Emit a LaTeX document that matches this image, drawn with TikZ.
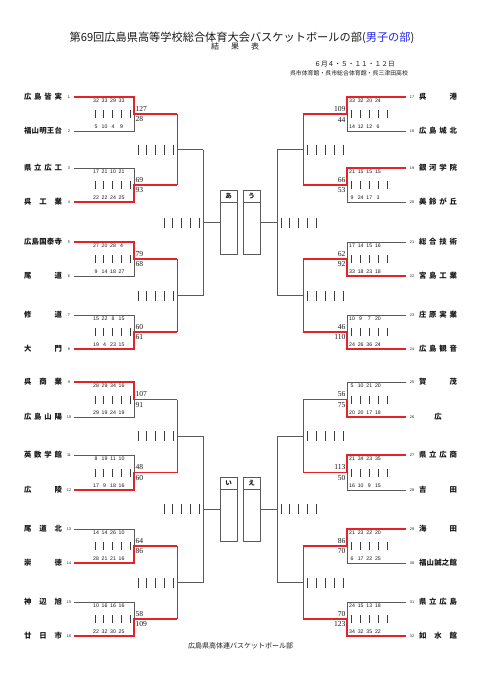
\documentclass[tikz,border=0pt]{standalone}
\usepackage{fontspec}
\setmainfont{Liberation Serif}
\setsansfont{Liberation Sans}
\newfontfamily\jp{Noto Sans CJK JP}
\usetikzlibrary{calc}
\definecolor{c1}{HTML}{1A1A1A}
\definecolor{linecolor}{HTML}{5A5A5A}
\definecolor{wincolor}{HTML}{E2232A}
\definecolor{titleblue}{HTML}{2323E6}

% names are spread over a fixed width
\def\spreadloop#1{\ifx#1\relax\else\hfill#1\expandafter\spreadloop\fi}
\def\spreadfirst#1#2\relax{\if\relax\detokenize{#2}\relax\hfill#1\hfill\else#1\spreadloop#2\relax\fi}
\newcommand\spread[1]{\makebox[38pt]{\expandafter\spreadfirst#1\relax}}

\begin{document}
\begin{tikzpicture}[x=1pt, y=-1pt,
    every node/.style={inner sep=0pt, outer sep=0pt, text=c1},
    ln/.style={linecolor, line width=0.85pt},
    win/.style={wincolor, line width=1.9pt},
    tk/.style={c1!85, line width=0.75pt},
    team/.style={font=\jp\bfseries\fontsize{7.4}{8}\selectfont},
    seed/.style={font=\sffamily\fontsize{3.8}{4}\selectfont},
    qtr/.style={font=\sffamily\fontsize{5.2}{6}\selectfont},
    tot/.style={font=\rmfamily\fontsize{7.6}{8}\selectfont},
    pool/.style={draw=linecolor, line width=0.85pt, minimum width=17pt,
        minimum height=64pt, anchor=north west},
    poolhead/.style={pool, minimum height=12pt, font=\jp\bfseries\fontsize{6.5}{7}\selectfont},
]
\fill[white] (0,0) rectangle (481,680);
\useasboundingbox (0,0) rectangle (481,680);

% heading
\node[font=\jp\fontsize{11.2}{12}\selectfont] (title) at (242,38)
    {第69回広島県高等学校総合体育大会バスケットボールの部(\textcolor{titleblue}{男子の部})};
\node[font=\jp\fontsize{8}{9}\selectfont] (sub) at (235,46.5) {結\hspace{12pt}果\hspace{12pt}表};
\node[font=\jp\fontsize{6.7}{7}\selectfont] (date) at (354.5,64) {６月４・５・１１・１２日};
\node[font=\jp\fontsize{5.9}{6}\selectfont] (venue) at (349,73) {呉市体育館・呉市総合体育館・呉三津田高校};
\node[font=\jp\fontsize{7}{8}\selectfont] (foot) at (240.5,646) {広島県高体連バスケットボール部};

% pools
\foreach \nm/\x/\y/\lab in {boxa/220/190/あ, boxu/243/190/う, boxi/220/477/い, boxe/243/477/え}{
  \node[pool] (\nm) at (\x,\y) {};
  \node[poolhead] (\nm-h) at (\x,\y) {\lab};
}

% teams, left
\foreach \y/\nm [count=\i] in {97/広島皆実, 131/福山明王台, 168/県立広工, 202/呉工業,
    242/広島国泰寺, 276/尾道, 315/修道, 349/大門,
    382/呉商業, 417/広島山陽, 455/英数学館, 490/広陵,
    529/尾道北, 563/崇徳, 602/神辺旭, 636/廿日市}{
  \node[team, anchor=west] (n\i) at (24,\y) {\spread\nm};
  \node[seed] (s\i) at (69,\y) {\i};
  \coordinate (t\i) at (74,\y);
}

% teams, right
\foreach \y/\nm [count=\i from 17] in {97/呉港, 131/広島城北, 168/銀河学院, 202/美鈴が丘,
    242/総合技術, 276/宮島工業, 315/庄原実業, 349/広島観音,
    382/賀茂, 417/広, 455/県立広商, 490/吉田,
    529/海田, 563/福山誠之館, 602/県立広島, 636/如水館}{
  \node[team, anchor=west] (n\i) at (419,\y) {\spread\nm};
  \node[seed] (s\i) at (412,\y) {\i};
  \coordinate (t\i) at (406,\y);
}

% first round, left
\foreach \i/\j/\wn/\qA/\qB/\sA/\sB [count=\m] in {
    1/2/t/{32,33,29,33}/{5,10,4,9}/127/28,
    3/4/b/{17,21,10,21}/{22,22,24,25}/69/93,
    5/6/t/{27,20,28,4}/{9,14,18,27}/79/68,
    7/8/b/{15,22,8,15}/{19,4,23,15}/60/61,
    9/10/t/{28,29,34,16}/{29,19,24,19}/107/91,
    11/12/b/{8,19,11,10}/{17,9,18,16}/48/60,
    13/14/b/{14,14,26,10}/{28,21,21,16}/64/86,
    15/16/b/{10,16,16,16}/{22,32,30,25}/58/109}{
  \if\wn t\def\winr{\i}\def\losr{\j}\else\def\winr{\j}\def\losr{\i}\fi
  \coordinate (m\m) at ($(t\i)!0.5!(t\j)+(60,0)$);
  \coordinate (w\m) at ($(m\m)+(43,0)$);
  \draw[ln] (t\losr) -- (t\losr -| m\m) -- (m\m);
  \draw[win] (t\winr) -- (t\winr -| m\m) -- (m\m) -- (w\m);
  \foreach \q [count=\k] in \qA
    \node[qtr] at ($(t\i -| m\m)+(-46.5+8.5*\k,4)$) {\q};
  \foreach \q [count=\k] in \qB
    \node[qtr] at ($(t\j -| m\m)+(-46.5+8.5*\k,-4)$) {\q};
  \foreach \k in {0,...,4}
    \draw[tk] ($(m\m)+(-39+8.75*\k,-4)$) -- ++(0,8);
  \node[tot, anchor=west] at ($(m\m)+(1.5,-5)$) {\sA};
  \node[tot, anchor=west] at ($(m\m)+(1.5,5.5)$) {\sB};
}

% first round, right
\foreach \i/\j/\wn/\qA/\qB/\sA/\sB [count=\m from 9] in {
    17/18/t/{33,32,20,24}/{14,12,12,6}/109/44,
    19/20/t/{21,15,15,15}/{9,24,17,3}/66/53,
    21/22/b/{17,14,15,16}/{33,18,23,18}/62/92,
    23/24/b/{10,9,7,20}/{24,26,36,24}/46/110,
    25/26/b/{5,10,21,20}/{20,20,17,18}/56/75,
    27/28/t/{21,34,23,35}/{16,10,9,15}/113/50,
    29/30/t/{21,23,22,20}/{6,17,22,25}/86/70,
    31/32/b/{24,15,13,18}/{34,32,35,22}/70/123}{
  \if\wn t\def\winr{\i}\def\losr{\j}\else\def\winr{\j}\def\losr{\i}\fi
  \coordinate (m\m) at ($(t\i)!0.5!(t\j)+(-59,0)$);
  \coordinate (w\m) at ($(m\m)+(-44,0)$);
  \draw[ln] (t\losr) -- (t\losr -| m\m) -- (m\m);
  \draw[win] (t\winr) -- (t\winr -| m\m) -- (m\m) -- (w\m);
  \foreach \q [count=\k] in \qA
    \node[qtr] at ($(t\i -| m\m)+(-3.65+8.65*\k,4)$) {\q};
  \foreach \q [count=\k] in \qB
    \node[qtr] at ($(t\j -| m\m)+(-3.65+8.65*\k,-4)$) {\q};
  \foreach \k in {0,...,4}
    \draw[tk] ($(m\m)+(4+9*\k,-4)$) -- ++(0,8);
  \node[tot, anchor=east] at ($(m\m)+(-1.5,-5)$) {\sA};
  \node[tot, anchor=east] at ($(m\m)+(-1.5,5.5)$) {\sB};
}

% second round
\foreach \a/\b [count=\nn] in {1/2, 3/4, 5/6, 7/8}{
  \coordinate (h\nn) at ($(w\a)!0.5!(w\b)$);
  \coordinate (r\nn) at ($(h\nn)+(26,0)$);
  \draw[ln] (w\a) -- (w\b);
  \draw[ln] (h\nn) -- (r\nn);
  \foreach \k in {0,...,4}
    \draw[tk] ($(h\nn)+(-39+8.75*\k,-5)$) -- ++(0,10);
}
\foreach \a/\b [count=\nn from 5] in {9/10, 11/12, 13/14, 15/16}{
  \coordinate (h\nn) at ($(w\a)!0.5!(w\b)$);
  \coordinate (r\nn) at ($(h\nn)+(-26,0)$);
  \draw[ln] (w\a) -- (w\b);
  \draw[ln] (h\nn) -- (r\nn);
  \foreach \k in {0,...,4}
    \draw[tk] ($(h\nn)+(4+9*\k,-5)$) -- ++(0,10);
}

% third round, into the pools
\foreach \a/\b/\bx [count=\nn] in {1/2/boxa, 3/4/boxi}{
  \coordinate (g\nn) at ($(r\a)!0.5!(r\b)$);
  \draw[ln] (r\a) -- (r\b);
  \draw[ln] (g\nn) -- (g\nn -| \bx.west);
  \foreach \k in {0,...,4}
    \draw[tk] ($(g\nn)+(-39+8.75*\k,-5)$) -- ++(0,10);
}
\foreach \a/\b/\bx [count=\nn from 3] in {5/6/boxu, 7/8/boxe}{
  \coordinate (g\nn) at ($(r\a)!0.5!(r\b)$);
  \draw[ln] (r\a) -- (r\b);
  \draw[ln] (g\nn) -- (g\nn -| \bx.east);
  \foreach \k in {0,...,4}
    \draw[tk] ($(g\nn)+(4+8.8*\k,-5)$) -- ++(0,10);
}
\end{tikzpicture}
\end{document}
